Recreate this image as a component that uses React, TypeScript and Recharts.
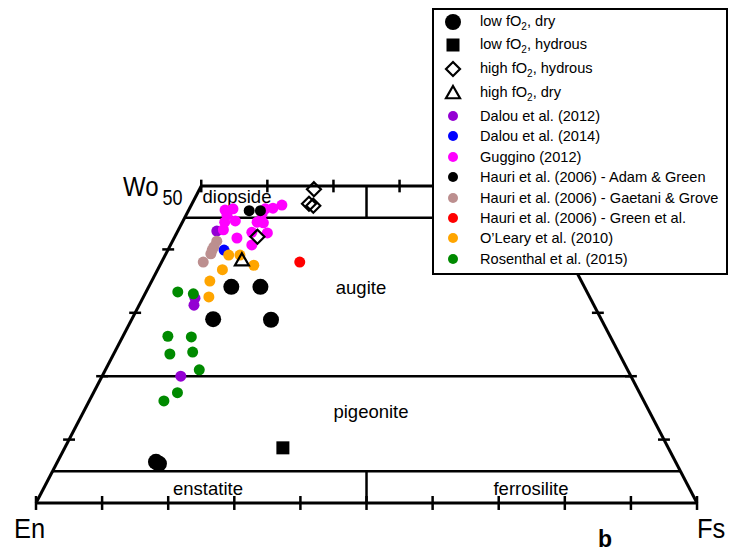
import * as React from "react";
import {
  ScatterChart, Scatter, XAxis, YAxis, ReferenceLine, Customized
} from "recharts";

// compositions as [Wo, Fs] in mol%
const lowDry = [[34.1, 12.5], [34.1, 16.9], [29.0, 12.3], [28.9, 21.1], [6.5, 14.9], [6.2, 15.5]];
const lowHydrous = [[8.7, 33.0]];
const highHydrous = [[49.5, 17.3], [47.2, 17.7], [46.9, 18.5], [42.0, 12.5]];
const highDry = [[38.3, 12.0]];
const dalou2012 = [[42.9, 5.9], [32.3, 7.9], [31.2, 8.3], [20.0, 11.9]];
const dalou2014 = [[39.9, 8.5]];
const guggino = [
  [46.2, 5.5], [46.4, 6.6], [45.4, 6.2], [44.5, 7.9], [44.3, 6.4], [43.1, 6.8],
  [41.8, 9.5], [42.7, 11.3], [44.3, 11.3], [44.2, 12.3], [40.7, 12.3], [42.6, 13.7],
  [46.5, 12.6], [47.0, 13.7], [46.4, 11.5], [45.6, 11.4],
];
const hauriAdamGreen = [[46.1, 9.2], [46.1, 10.9]];
const hauriGaetaniGrove = [[41.3, 6.7], [40.4, 6.7], [39.9, 6.7], [39.3, 6.8], [38.0, 6.3]];
const hauriGreen = [[38.0, 20.9]];
const oleary = [[39.1, 9.6], [39.1, 11.3], [37.5, 14.2], [36.8, 9.8], [35.0, 8.8], [32.5, 9.9]];
const rosenthal = [
  [33.3, 4.8], [33.0, 7.3], [26.3, 6.8], [26.2, 10.4], [23.5, 8.5],
  [23.8, 11.8], [21.0, 14.2], [17.4, 12.7], [16.1, 11.3],
];

const baseTicks = [0, 10, 20, 30, 40, 50, 60, 70, 80, 90, 100];
const sideTicks = [10, 20, 30, 40];
const topTicks = [0, 10, 20, 30, 40, 50];

// ternary projection: x along En-Fs base, y = Wo
const toXY = (pts: number[][]) => pts.map(([wo, fs]) => ({ x: fs + wo / 2, y: wo }));

const W = 731;
const H = 552;
const FONT = "'Liberation Sans', Arial, Helvetica, sans-serif";

const dot = (r: number, color: string) => (p: any) =>
  <circle cx={p.cx} cy={p.cy} r={r} fill={color} />;
const square = (s: number) => (p: any) =>
  <rect x={p.cx - s / 2} y={p.cy - s / 2} width={s} height={s} fill="#000" />;
const diamond = (d: number) => (p: any) =>
  <path d={`M${p.cx},${p.cy - d} L${p.cx + d},${p.cy} L${p.cx},${p.cy + d} L${p.cx - d},${p.cy} Z`}
    fill="none" stroke="#000" strokeWidth={2.2} />;
const triangle = (d: number) => (p: any) =>
  <path d={`M${p.cx},${p.cy - d} L${p.cx + d},${p.cy + d * 0.75} L${p.cx - d},${p.cy + d * 0.75} Z`}
    fill="none" stroke="#000" strokeWidth={2.2} />;

const literature = [
  { name: "Dalou et al. (2012)", color: "#9400d3", data: dalou2012 },
  { name: "Dalou et al. (2014)", color: "#0000ff", data: dalou2014 },
  { name: "Guggino (2012)", color: "#ff00ff", data: guggino },
  { name: "Hauri et al. (2006) - Adam & Green", color: "#000000", data: hauriAdamGreen },
  { name: "Hauri et al. (2006) - Gaetani & Grove", color: "#bc8f8f", data: hauriGaetaniGrove },
  { name: "Hauri et al. (2006) - Green et al.", color: "#ff0000", data: hauriGreen },
  { name: "O\u2019Leary et al. (2010)", color: "#ffa500", data: oleary },
  { name: "Rosenthal et al. (2015)", color: "#008a00", data: rosenthal },
];

const experiments = [
  { key: "lowDry", label: ["low fO", ", dry"], data: lowDry, shape: dot(8, "#000") },
  { key: "lowHyd", label: ["low fO", ", hydrous"], data: lowHydrous, shape: square(13) },
  { key: "highHyd", label: ["high fO", ", hydrous"], data: highHydrous, shape: diamond(7) },
  { key: "highDry", label: ["high fO", ", dry"], data: highDry, shape: triangle(7) },
];

function LegendBox() {
  const x0 = 433, y0 = 9, mx = 453, tx = 480;
  const rowsTop = [22, 45, 69, 93];
  const rowsLit = [116, 136, 157, 177, 198, 218, 238, 259];
  return (
    <svg width={W} height={H} style={{ position: "absolute", left: 0, top: 0, pointerEvents: "none" }}>
      <g fontFamily={FONT} fontSize={14.6} fill="#000">
        <rect x={x0} y={y0} width={294} height={265} fill="#fff" stroke="#000" strokeWidth={2} />
        {experiments.map((e, i) => (
          <g key={e.key}>
            {e.shape({ cx: mx, cy: rowsTop[i] })}
            <text x={tx} y={rowsTop[i] + 4}>
              {e.label[0]}<tspan fontSize={10} dy={4}>2</tspan><tspan dy={-4}>{e.label[1]}</tspan>
            </text>
          </g>
        ))}
        {literature.map((l, i) => (
          <g key={l.name}>
            <circle cx={mx} cy={rowsLit[i]} r={5} fill={l.color} />
            <text x={tx} y={rowsLit[i] + 5}>{l.name}</text>
          </g>
        ))}
      </g>
    </svg>
  );
}

function Labels() {
  return (
    <g fontFamily={FONT} fill="#000">
      <text x={237} y={203} fontSize={18.5} textAnchor="middle">diopside</text>
      <text x={361} y={294} fontSize={18.5} textAnchor="middle">augite</text>
      <text x={371} y={418} fontSize={18.5} textAnchor="middle">pigeonite</text>
      <text x={208} y={495} fontSize={18.5} textAnchor="middle">enstatite</text>
      <text x={531} y={495} fontSize={18.5} textAnchor="middle">ferrosilite</text>
      <text transform="translate(123,196) scale(1,1.18)" fontSize={24}>Wo<tspan fontSize={18} dx={4} dy={8}>50</tspan></text>
      <text transform="translate(14,538) scale(1,1.12)" fontSize={25.5}>En</text>
      <text transform="translate(697,538) scale(1,1.12)" fontSize={25.5}>Fs</text>
      <text x={598} y={547} fontSize={23} fontWeight="bold">b</text>
    </g>
  );
}

const seg = (x1: number, y1: number, x2: number, y2: number, w: number, k: string) => (
  <ReferenceLine key={k} segment={[{ x: x1, y: y1 }, { x: x2, y: y2 }]}
    stroke="#000" strokeWidth={w} ifOverflow="visible" />
);

export default function App() {
  return (
    <div style={{ position: "absolute", left: 0, top: 0, width: W, height: H, background: "#fff" }}>
      <ScatterChart width={W} height={H} margin={{ top: 0, right: 0, bottom: 0, left: 0 }}>
        <XAxis type="number" dataKey="x" hide domain={[-5.446, 105.14]} allowDataOverflow />
        <YAxis type="number" dataKey="y" hide domain={[-7.73, 79.34]} allowDataOverflow />
        {/* quadrilateral outline */}
        {seg(0, 0, 100, 0, 3, "base")}
        {seg(0, 0, 25, 50, 3, "left")}
        {seg(100, 0, 75, 50, 3, "right")}
        {seg(25, 50, 75, 50, 3, "top")}
        {/* field boundaries */}
        {seg(2.5, 5, 97.5, 5, 2.5, "wo5")}
        {seg(10, 20, 90, 20, 2.5, "wo20")}
        {seg(22.5, 45, 77.5, 45, 2.5, "wo45")}
        {seg(50, 0, 50, 5, 2.5, "v1")}
        {seg(50, 45, 50, 50, 2.5, "v2")}
        {/* ticks */}
        {baseTicks.map((t) => seg(t, -1.1, t, 1.1, 2.5, "bt" + t))}
        {topTicks.map((t) => seg(25 + t, 49, 25 + t, 51, 2.5, "tt" + t))}
        {sideTicks.map((t) => seg(t / 2 - 0.9, t, t / 2 + 0.9, t, 2.5, "lt" + t))}
        {sideTicks.map((t) => seg(100 - t / 2 - 0.9, t, 100 - t / 2 + 0.9, t, 2.5, "rt" + t))}
        {literature.map((l) => (
          <Scatter key={l.name} name={l.name} data={toXY(l.data)} isAnimationActive={false}
            shape={dot(5.5, l.color)} />
        ))}
        {experiments.map((e) => (
          <Scatter key={e.key} name={e.key} data={toXY(e.data)} isAnimationActive={false}
            shape={e.shape} />
        ))}
        <Customized component={Labels} />
      </ScatterChart>
      <LegendBox />
    </div>
  );
}
